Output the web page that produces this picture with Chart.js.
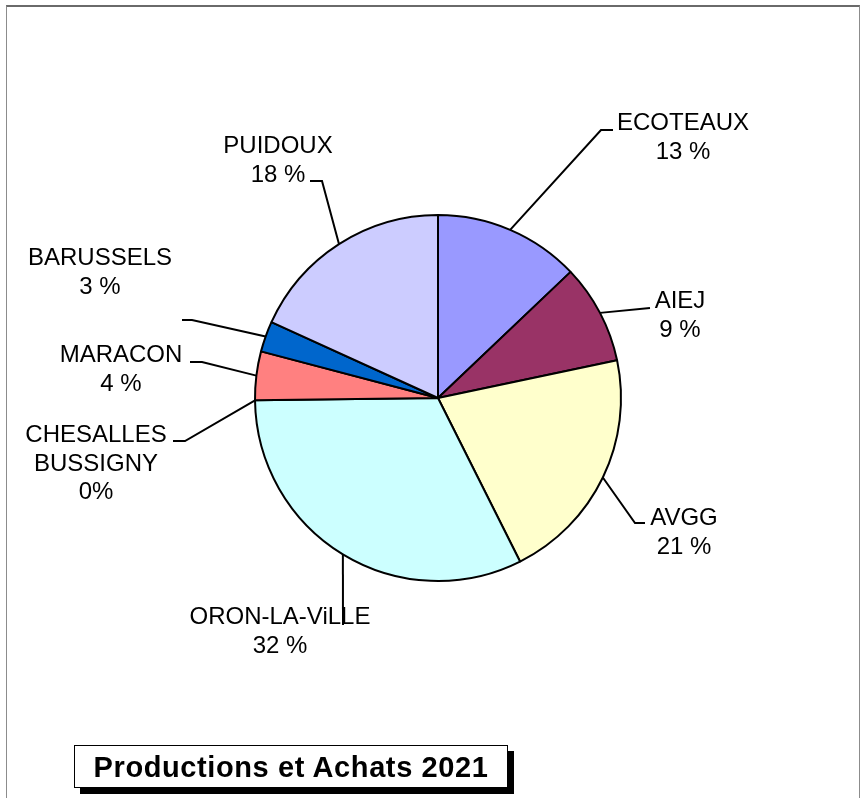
<!DOCTYPE html>
<html>
<head>
<meta charset="utf-8">
<script src="https://cdn.jsdelivr.net/npm/chart.js@4"></script>
<style>
    body { margin: 0; background: #fff; font-family: "Liberation Sans", Arial, sans-serif; }
    #cadre {
        position: absolute; left: 6px; top: 5px; width: 852px; height: 900px;
        border: 1px solid #8c8c8c; border-top: 2px solid #6a6a6a;
    }
    #graphique { position: absolute; left: 0; top: 0; }
    #titre {
        position: absolute; left: 74px; top: 745px; width: 432px; height: 41px;
        border: 1px solid #000; background: #fff; box-shadow: 6px 6px 0 #000;
        font: bold 29px "Liberation Sans", Arial, sans-serif; letter-spacing: 0.6px;
        text-align: center; line-height: 42px; color: #000;
    }
</style>
</head>
<body>
<div id="cadre"></div>
<canvas id="graphique" width="860" height="798"></canvas>
<div id="titre">Productions et Achats 2021</div>
<script>
// données (part en %)
const categories = ["ECOTEAUX", "AIEJ", "AVGG", "ORON-LA-ViLLE", ["CHESALLES", "BUSSIGNY"], "MARACON", "BARUSSELS", "PUIDOUX"];
const valeurs = [12.9, 8.8, 20.9, 32.2, 0, 4.3, 2.7, 18.2];
const pourcents = ["13 %", "9 %", "21 %", "32 %", "0%", "4 %", "3 %", "18 %"];
const couleurs = ["#9999FF", "#993366", "#FFFFCC", "#CCFFFF", "#FFFFFF", "#FF8080", "#0066CC", "#CCCCFF"];

// position des étiquettes et lignes de rappel, relatives au centre du camembert
const placement = [
    { ligne: [[163, -268], [175, -268]], texte: [245, -268] },
    { ligne: [[212, -90]], texte: [242, -90] },
    { ligne: [[197, 125], [207, 125]], texte: [246, 127] },
    { ligne: [[-95, 227]], texte: [-158, 226] },
    { ligne: [[-253, 43], [-265, 43]], texte: [-342, 44] },
    { ligne: [[-236, -36], [-248, -36]], texte: [-317, -36] },
    { ligne: [[-246, -78], [-256, -78]], texte: [-338, -133] },
    { ligne: [[-116, -217], [-128, -217]], texte: [-160, -245] }
];

const etiquettesPlugin = {
    id: "etiquettes",
    afterDatasetsDraw(chart) {
        const ctx = chart.ctx;
        const arcs = chart.getDatasetMeta(0).data;
        ctx.save();
        ctx.strokeStyle = "#000";
        ctx.lineWidth = 2;
        ctx.fillStyle = "#000";
        ctx.font = "24px 'Liberation Sans', Arial, sans-serif";
        ctx.textAlign = "center";
        ctx.textBaseline = "alphabetic";
        arcs.forEach((arc, i) => {
            const p = arc.getProps(["x", "y", "startAngle", "endAngle", "outerRadius"]);
            const milieu = (p.startAngle + p.endAngle) / 2;
            const pl = placement[i];
            ctx.beginPath();
            ctx.moveTo(p.x + Math.cos(milieu) * p.outerRadius, p.y + Math.sin(milieu) * p.outerRadius);
            pl.ligne.forEach(([dx, dy]) => ctx.lineTo(p.x + dx, p.y + dy));
            ctx.stroke();

            const nom = Array.isArray(categories[i]) ? categories[i] : [categories[i]];
            const lignes = [...nom, pourcents[i]];
            lignes.forEach((t, k) => {
                ctx.fillText(t, p.x + pl.texte[0], p.y + pl.texte[1] + k * 28.5);
            });
        });
        ctx.restore();
    }
};

new Chart(document.getElementById("graphique"), {
    type: "pie",
    data: {
        labels: categories,
        datasets: [{
            data: valeurs,
            backgroundColor: couleurs,
            borderColor: "#000",
            borderWidth: 2
        }]
    },
    options: {
        responsive: false,
        animation: false,
        devicePixelRatio: 1,
        layout: { padding: { left: 254, right: 238, top: 214, bottom: 216 } },
        plugins: {
            legend: { display: false },
            tooltip: { enabled: false }
        }
    },
    plugins: [etiquettesPlugin]
});
</script>
</body>
</html>
